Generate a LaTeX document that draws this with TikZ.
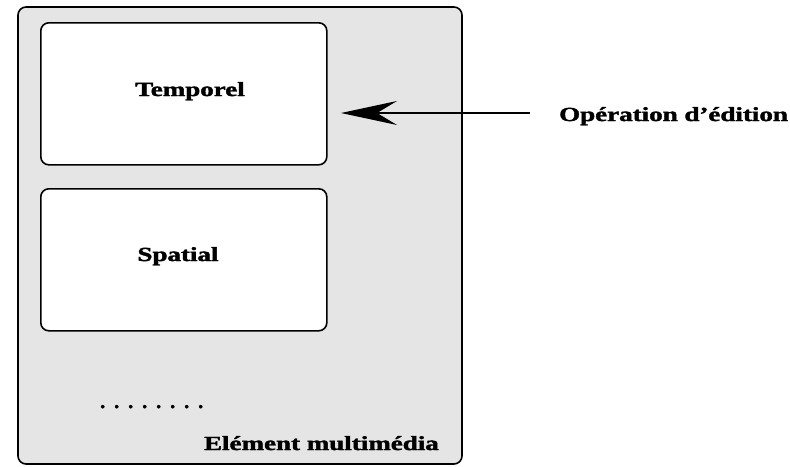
\documentclass[tikz,border=0pt]{standalone}
\usepackage{fontspec}
\setmainfont{Liberation Serif}
\newfontfamily\heavyfont[FakeBold=1.6,Ligatures=TeX]{Liberation Serif Bold}
\usetikzlibrary{arrows.meta}
\newcommand{\widetext}[1]{\scalebox{1.35}[1]{\heavyfont\fontsize{20}{22}\selectfont #1}}
\begin{document}
\begin{tikzpicture}[x=1pt,y=-1pt,
  panel/.style={draw=black,line width=1.6pt,rounded corners=8pt},
  lbl/.style={inner sep=0pt,anchor=base}]
\useasboundingbox (0,0) rectangle (790,466);
% outer container
\draw[panel,fill=black!10] (18,7) rectangle (462,464);
% inner panels
\node[panel,fill=white,minimum width=286pt,minimum height=142pt,anchor=north west] (temp) at (40,22) {};
\node[panel,fill=white,minimum width=286pt,minimum height=142pt,anchor=north west] (spat) at (40,188) {};
\node[lbl] (tlabel) at (190,96) {\widetext{Temporel}};
\node[lbl] (slabel) at (178,261) {\widetext{Spatial}};
% ellipsis
\node[lbl,anchor=base west] (dots) at (100,408) {\heavyfont\fontsize{20}{22}\selectfont .\hspace{9pt}.\hspace{9pt}.\hspace{9pt}.\hspace{9pt}.\hspace{9pt}.\hspace{9pt}.\hspace{9pt}.};
\node[lbl,anchor=base east] (elem) at (439,450) {\widetext{Elément multimédia}};
% edit operation
\node[lbl,anchor=base west] (op) at (559,121) {\widetext{Opération d’édition}};
\coordinate (start) at (530,113);
\coordinate (tip) at (341,113);
\draw[line width=1.5pt,-{Stealth[length=56pt,width=24pt,inset=20pt]}] (start) -- (tip);
\end{tikzpicture}
\end{document}
